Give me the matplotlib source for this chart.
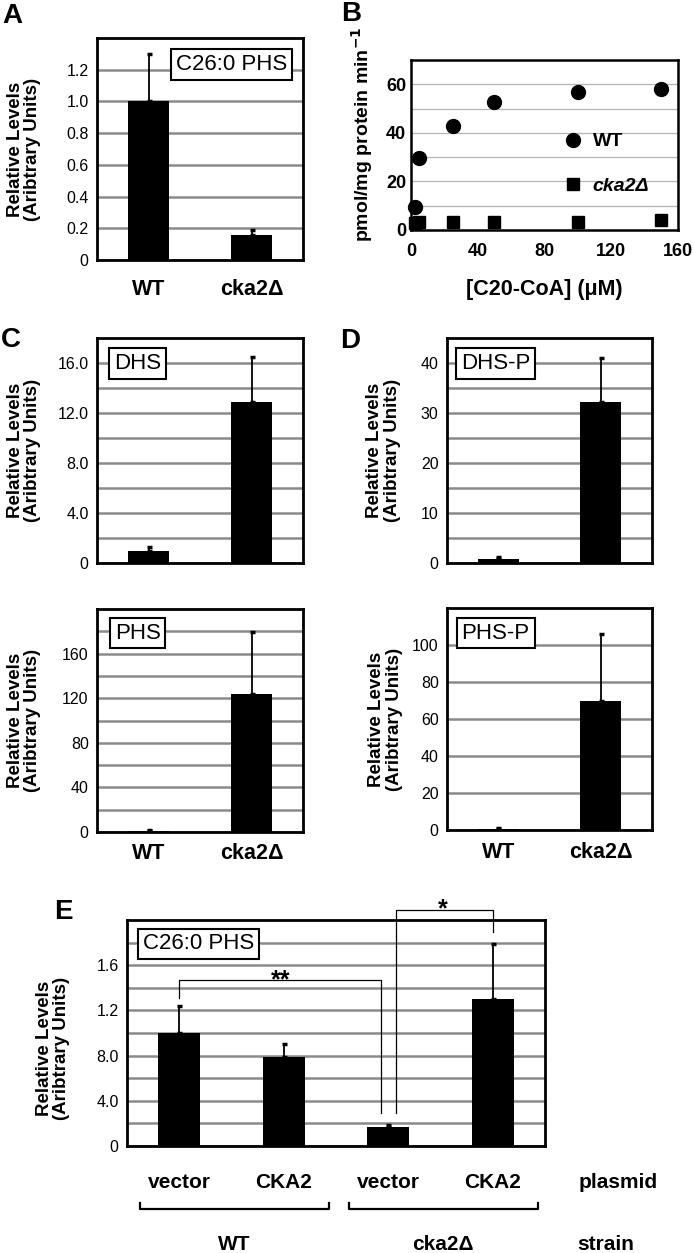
import matplotlib
matplotlib.use("Agg")
import matplotlib.pyplot as plt
import numpy as np

plt.rcParams['font.family'] = ['Liberation Sans', 'DejaVu Sans']

# ---- data ----
strains = ['WT', 'cka2Δ']

a_vals = [1.0, 0.155]
a_err = [0.30, 0.035]

b_conc = [2.5, 5, 25, 50, 100, 150]
b_wt = [9.6, 29.6, 42.8, 52.8, 57.0, 57.9]
b_cka2 = [3.0, 3.5, 3.5, 3.5, 3.2, 4.2]

dhs_vals = [1.0, 12.9]
dhs_err = [0.3, 3.6]
phs_vals = [1.0, 124]
phs_err = [0.5, 55]
dhsp_vals = [0.8, 32.2]
dhsp_err = [0.4, 8.8]
phsp_vals = [0.5, 69.5]
phsp_err = [0.5, 36.5]

e_plasmid = ['vector', 'CKA2', 'vector', 'CKA2']
e_strain = ['WT', 'cka2Δ']
e_vals = [1.0, 0.79, 0.17, 1.30]
e_err = [0.24, 0.11, 0.02, 0.49]
e_tick_labels = ['0', '4.0', '8.0', '1.2', '1.6']

W, H = 693, 1253
fig = plt.figure(figsize=(W / 100, H / 100), dpi=100)


def add_ax(l, t, r, b):
    return fig.add_axes([l / W, 1 - b / H, (r - l) / W, (b - t) / H])


def bar_panel(ax, vals, err, ymax, ticks, labels, grid, box, box_x, box_y,
              show_x=True, width=0.39, lab_x=-0.27, xpad=10):
    x = np.arange(len(vals))
    ax.set_axisbelow(True)
    ax.bar(x, vals, width=width, color='black', zorder=2)
    ax.errorbar(x, vals, yerr=[np.zeros(len(err)), err], fmt='none',
                ecolor='black', elinewidth=1.3, capsize=1.8, capthick=2.5, zorder=3)
    ax.set_xlim(-0.5, len(vals) - 0.5)
    ax.set_ylim(0, ymax)
    ax.set_yticks(ticks)
    ax.set_yticklabels(labels, fontsize=11.5)
    ax.set_yticks(grid, minor=True)
    ax.grid(axis='y', which='both', color='#8a8a8a', lw=1.8)
    ax.tick_params(axis='both', which='both', length=0)
    ax.tick_params(axis='y', pad=6)
    for s in ax.spines.values():
        s.set_linewidth(2.0)
    if show_x and len(vals) == 2:
        ax.set_xticks(x)
        ax.set_xticklabels(strains, fontsize=15.5, fontweight='bold')
        ax.tick_params(axis='x', pad=xpad)
    else:
        ax.set_xticks([])
    ax.set_ylabel('Relative Levels\n(Aribtrary Units)', fontsize=13.5,
                  fontweight='bold', linespacing=1.05)
    ax.yaxis.set_label_coords(lab_x, 0.5)
    ax.text(box_x, box_y, box, transform=ax.transAxes, ha='center', va='center',
            fontsize=16, zorder=5,
            bbox=dict(boxstyle='square,pad=0.22', fc='white', ec='black', lw=1.5))


def letter(x, y, s):
    fig.text(x / W, 1 - y / H, s, fontsize=20, fontweight='bold',
             ha='center', va='center')


# ---- A ----
axA = add_ax(97, 38, 303, 260)
bar_panel(axA, a_vals, a_err, 1.4, [0, 0.2, 0.4, 0.6, 0.8, 1.0, 1.2],
          ['0', '0.2', '0.4', '0.6', '0.8', '1.0', '1.2'],
          [0.2, 0.4, 0.6, 0.8, 1.0, 1.2], 'C26:0 PHS', 0.655, 0.881,
          lab_x=-0.27, xpad=14)
letter(12, 16, 'A')

# ---- B ----
axB = add_ax(411, 60, 678, 230)
axB.set_axisbelow(True)
axB.plot(b_conc, b_wt, 'o', color='black', ms=10, label='WT', clip_on=False, zorder=3)
axB.plot(b_conc, b_cka2, 's', color='black', ms=9, label='cka2Δ', clip_on=False, zorder=3)
axB.set_xlim(0, 160)
axB.set_ylim(0, 70)
axB.set_xticks([0, 40, 80, 120, 160])
axB.set_yticks([0, 20, 40, 60])
axB.set_yticks(np.arange(10, 70, 10), minor=True)
axB.grid(axis='y', which='both', color='#b5b5b5', lw=0.9)
axB.tick_params(axis='both', which='both', length=0, labelsize=13)
axB.tick_params(axis='x', pad=9)
for lab in axB.get_xticklabels() + axB.get_yticklabels():
    lab.set_fontweight('bold')
for s in axB.spines.values():
    s.set_linewidth(1.8)
axB.set_xlabel('[C20-CoA] (μM)', fontsize=15.5, fontweight='bold', labelpad=14)
axB.set_ylabel('pmol/mg protein min$^{\\mathbf{-1}}$', fontsize=14, fontweight='bold')
axB.yaxis.set_label_coords(-0.135, 0.56)
leg = axB.legend(loc='upper left', bbox_to_anchor=(0.505, 0.675), frameon=False,
                 prop={'weight': 'bold', 'size': 14}, handlelength=1.0,
                 handletextpad=0.5, labelspacing=1.4)
leg.get_texts()[1].set_style('italic')
letter(351, 14, 'B')

# ---- C ----
axC1 = add_ax(97, 338, 303, 563)
bar_panel(axC1, dhs_vals, dhs_err, 18, [0, 4, 8, 12, 16],
          ['0', '4.0', '8.0', '12.0', '16.0'], np.arange(2, 18, 2),
          'DHS', 0.197, 0.887, show_x=False, lab_x=-0.27)
axC2 = add_ax(97, 609, 303, 832)
bar_panel(axC2, phs_vals, phs_err, 200, [0, 40, 80, 120, 160],
          ['0', '40', '80', '120', '160'], np.arange(20, 200, 20),
          'PHS', 0.197, 0.892, lab_x=-0.27, xpad=8)
letter(11, 340, 'C')

# ---- D ----
axD1 = add_ax(447, 338, 652, 563)
bar_panel(axD1, dhsp_vals, dhsp_err, 45, [0, 10, 20, 30, 40],
          ['0', '10', '20', '30', '40'], np.arange(5, 45, 5),
          'DHS-P', 0.237, 0.887, show_x=False, width=0.4, lab_x=-0.225)
axD2 = add_ax(447, 608, 652, 830)
bar_panel(axD2, phsp_vals, phsp_err, 120, [0, 20, 40, 60, 80, 100],
          ['0', '20', '40', '60', '80', '100'], np.arange(20, 120, 20),
          'PHS-P', 0.237, 0.887, width=0.4, lab_x=-0.215, xpad=9)
letter(350, 341, 'D')

# ---- E ----
axE = add_ax(127, 920, 545, 1146)
bar_panel(axE, e_vals, e_err, 2.0, [0, 0.4, 0.8, 1.2, 1.6], e_tick_labels,
          np.arange(0.2, 2.0, 0.2), 'C26:0 PHS', 0.172, 0.894, show_x=False,
          width=0.4, lab_x=-0.136)
axE.yaxis.set_label_coords(-0.136, 0.43)
xe = np.arange(len(e_vals))
trE = axE.get_xaxis_transform()
for xi, lab in zip(xe, e_plasmid):
    axE.text(xi, -0.118, lab, transform=trE, ha='center', va='top',
             fontsize=15, fontweight='bold')
axE.text(4.2, -0.118, 'plasmid', transform=trE, ha='center', va='top',
         fontsize=15, fontweight='bold')
for g, name in enumerate(e_strain):
    x0, x1 = 2 * g - 0.38, 2 * g + 1.43
    axE.plot([x0, x0, x1, x1], [-0.252, -0.279, -0.279, -0.252], color='black',
             lw=1.6, transform=trE, clip_on=False)
    axE.text((x0 + x1) / 2, -0.438, name, transform=trE, ha='center', va='center',
             fontsize=15, fontweight='bold')
axE.text(4.08, -0.438, 'strain', transform=trE, ha='center', va='center',
         fontsize=15, fontweight='bold')

# significance brackets
axE.plot([0, 0, 1.93, 1.93], [1.31, 1.47, 1.47, 0.29], color='black', lw=0.9,
         clip_on=False, zorder=4)
axE.text(0.97, 1.40, '**', ha='center', va='baseline', fontsize=18, fontweight='bold')
axE.plot([2.07, 2.07, 3.0, 3.0], [0.29, 2.09, 2.09, 1.89], color='black', lw=0.9,
         clip_on=False, zorder=4)
axE.text(2.52, 2.03, '*', ha='center', va='baseline', fontsize=18, fontweight='bold')
letter(63, 912, 'E')

fig.savefig('out.png', dpi=100)
